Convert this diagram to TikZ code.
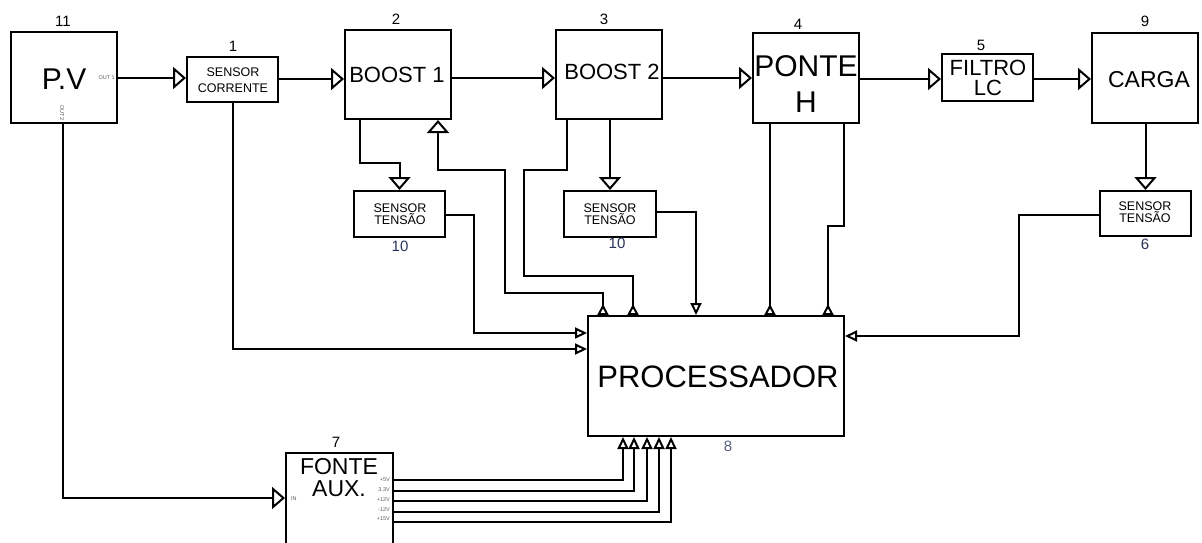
\documentclass[tikz,border=0pt]{standalone}
\usepackage{fontspec}
\setmainfont{Liberation Sans}
\usetikzlibrary{arrows.meta}
\definecolor{numblue}{RGB}{40,50,90}
\definecolor{numslate}{RGB}{85,95,125}
\definecolor{pingray}{RGB}{90,90,90}
\tikzset{
  BT/.tip={Triangle[length=13pt,width=22pt,fill=white]},
  ST/.tip={Triangle[length=12pt,width=11pt,fill=white]},
  FT/.tip={Triangle[length=12pt,width=11pt,fill=white]},
  RT/.tip={Triangle[length=11pt,width=11pt,fill=white,reversed]},
  blk/.style={draw, line width=2pt, inner sep=0pt},
  wire/.style={line width=2pt, line join=miter},
  txt/.style={inner sep=0pt, align=center},
  num/.style={inner sep=0pt, font=\fontsize{15}{15}\selectfont},
  sens/.style={inner sep=0pt, align=center, font=\fontsize{12.5}{12.5}\selectfont},
  pin/.style={inner sep=0pt, text=pingray, font=\fontsize{5.5}{5.5}\selectfont},
}
\begin{document}
\begin{tikzpicture}[x=1pt,y=-1pt]
\useasboundingbox (0,0) rectangle (1202,543);
\clip (0,0) rectangle (1202,543);
% boxes
\node[blk, minimum width=106pt, minimum height=91pt] (pv) at (64,77.5) {};
\node[blk, minimum width=91pt, minimum height=45pt] (sc) at (232.5,79.5) {};
\node[blk, minimum width=106pt, minimum height=89pt] (b1) at (398,74.5) {};
\node[blk, minimum width=106pt, minimum height=89pt] (b2) at (609,74.5) {};
\node[blk, minimum width=106pt, minimum height=90pt] (ph) at (806,78) {};
\node[blk, minimum width=91pt, minimum height=46pt] (fl) at (987.5,77.5) {};
\node[blk, minimum width=106pt, minimum height=90pt] (ca) at (1145,78) {};
\node[blk, minimum width=91pt, minimum height=46pt] (st1) at (399.5,214) {};
\node[blk, minimum width=92pt, minimum height=46pt] (st2) at (610,214) {};
\node[blk, minimum width=91pt, minimum height=45pt] (st6) at (1145.5,213.5) {};
\node[blk, minimum width=256pt, minimum height=120pt] (proc) at (716,376) {};
\node[blk, minimum width=107pt, minimum height=107pt] (fonte) at (339.5,506.5) {};
% texts
\node[txt, font=\fontsize{30}{30}\selectfont] (tpv) at (64,79) {P.V};
\node[pin, anchor=east] (tout1) at (115,78) {OUT 1};
\node[pin, rotate=-90] (tout2) at (62,113) {OUT2};
\node[txt, font=\fontsize{12.5}{15.5}\selectfont] (tsc) at (233,80) {SENSOR\\CORRENTE};
\node[txt, font=\fontsize{22}{22}\selectfont] (tb1) at (397,75) {BOOST 1};
\node[txt, font=\fontsize{22}{22}\selectfont] (tb2) at (612,72) {BOOST 2};
\node[txt, font=\fontsize{30}{36}\selectfont] (tph) at (806,84) {PONTE\\H};
\node[txt, font=\fontsize{22}{20}\selectfont] (tfl) at (988,78) {FILTRO\\LC};
\node[txt, font=\fontsize{23}{23}\selectfont] (tca) at (1149,80) {CARGA};
\node[txt, font=\fontsize{31}{31}\selectfont] (tproc) at (718,377) {PROCESSADOR};
\node[txt, font=\fontsize{23}{22}\selectfont] (tfonte) at (339,478) {FONTE\\AUX.};
\node[sens] (tst1) at (400,214) {SENSOR\\TENSÃO};
\node[sens] (tst2) at (610,214) {SENSOR\\TENSÃO};
\node[sens] (tst6) at (1145,212) {SENSOR\\TENSÃO};
\node[pin, anchor=east] (p5) at (390,480) {+5V};
\node[pin, anchor=east] (p33) at (390,490) {3.3V};
\node[pin, anchor=east] (p12) at (390,500) {+12V};
\node[pin, anchor=east] (pm12) at (390,510) {-12V};
\node[pin, anchor=east] (p15) at (390,519) {+15V};
\node[pin, anchor=west] (pin) at (291,499) {IN};
% numbers
\node[num] (n11) at (63,21) {11};
\node[num] (n1) at (233,46) {1};
\node[num] (n2) at (396,19) {2};
\node[num] (n3) at (604,19) {3};
\node[num] (n4) at (798,24) {4};
\node[num] (n5) at (981,45) {5};
\node[num] (n9) at (1145,21) {9};
\node[num, text=numblue] (n10a) at (400,246) {10};
\node[num, text=numblue] (n10b) at (617,243) {10};
\node[num, text=numblue] (n6) at (1145,244) {6};
\node[num, text=numslate] (n8) at (728,446) {8};
\node[num] (n7) at (336,442) {7};
% main chain
\draw[wire,-BT] (pv.east |- 0,78) -- (sc.west |- 0,78);
\draw[wire,-BT] (sc.east |- 0,79) -- (b1.west |- 0,79);
\draw[wire,-BT] (b1.east |- 0,78) -- (b2.west |- 0,78);
\draw[wire,-BT] (b2.east |- 0,78) -- (ph.west |- 0,78);
\draw[wire,-BT] (ph.east |- 0,79) -- (fl.west |- 0,79);
\draw[wire,-BT] (fl.east |- 0,79) -- (ca.west |- 0,79);
% to voltage sensors
\draw[wire,-BT] (b1.south -| 360,0) -- (360,163) -| (st1.north);
\draw[wire,-BT] (b2.south -| st2.north) -- (st2.north);
\draw[wire,-BT] (ca.south -| st6.north) -- (st6.north);
% sensors to processor
\draw[wire,-ST] (st1.east |- 0,215) -| (474,333) -- (proc.west |- 0,333);
\draw[wire,-ST] (st2.east |- 0,212) -| (proc.north -| 696,0);
\draw[wire,-ST] (st6.west |- 0,215) -| (1019,336) -- (proc.east |- 0,336);
\draw[wire,-ST] (sc.south -| 233,0) |- (proc.west |- 0,349);
% boost / bridge links
\draw[wire,BT-RT] (b1.south -| 438,0) -- (438,170) -- (505,170) -- (505,293) -- (603,293) -- (proc.north -| 603,0);
\draw[wire,-RT] (b2.south -| 567,0) -- (567,170) -- (524,170) -- (524,276) -- (633,276) -- (proc.north -| 633,0);
\draw[wire,-RT] (ph.south -| 770,0) -- (proc.north -| 770,0);
\draw[wire,-RT] (ph.south -| 844,0) -- (844,226) -- (828,226) -- (proc.north -| 828,0);
% auxiliary supply
\draw[wire,-BT] (pv.south -| 63,0) |- (fonte.west |- 0,498);
\foreach \yy/\xx in {480/623, 491/634, 501/647, 512/659, 522/671}
  \draw[wire,-FT] (fonte.east |- 0,\yy) -| (proc.south -| \xx,0);
\end{tikzpicture}
\end{document}
